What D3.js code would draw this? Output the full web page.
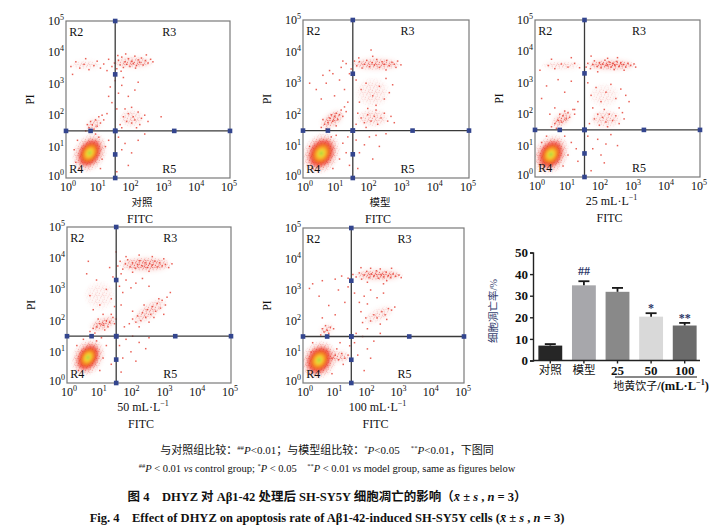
<!DOCTYPE html>
<html>
<head>
<meta charset="utf-8">
<script src="https://cdn.jsdelivr.net/npm/d3@7"></script>
<style>
  body { margin: 0; background: #fff; }
  text { font-family: "Liberation Serif", "Noto Sans CJK SC", serif; fill: #111; }
</style>
</head>
<body>
<svg id="fig" width="718" height="528"></svg>
<script>
// ---- flow cytometry panels (all values in log10 decades) ----
var panelNames = ['对照', '模型', '25', '50', '100'];
var decades = [0, 1, 2, 3, 4, 5];
var gateX = 1.5, gateY = 1.5;
var gateMarks = [0, 0.75, 1.5, 3.3, 5];

// dense R4 core: cx, cy, rx, ry, tilt
var coreCtrl = [0.72, 0.8, 0.34, 0.5, 32];
var coreModel = [0.55, 0.78, 0.38, 0.52, 32];
var core25 = [0.48, 0.72, 0.36, 0.5, 32];
var core50 = [0.64, 0.82, 0.32, 0.48, 32];
var core100 = [0.5, 0.74, 0.38, 0.5, 32];

// dense clouds: cx, cy, rx, ry, tilt, strength
var hazeCtrl = [[0.72, 0.8, 0.5, 0.7, 32, 0.9], [2.05, 3.68, 0.65, 0.18, 0, 0.7], [0.85, 1.7, 0.28, 0.18, -35, 0.6], [2.0, 1.9, 0.4, 0.3, 0, 0.35], [0.6, 3.6, 0.5, 0.15, 0, 0.3]];
var hazeModel = [[0.55, 0.78, 0.55, 0.72, 32, 0.95], [2.2, 3.6, 0.8, 0.2, 0, 0.75], [0.88, 1.85, 0.42, 0.22, -35, 0.9], [2.1, 1.9, 0.5, 0.3, 0, 0.4], [2.1, 2.7, 0.55, 0.5, 0, 0.25]];
var haze25 = [[0.48, 0.72, 0.52, 0.7, 32, 0.95], [2.3, 3.57, 0.8, 0.17, 0, 1], [0.81, 1.83, 0.38, 0.2, -35, 0.85], [2.15, 1.85, 0.5, 0.3, 0, 0.4], [0.8, 3.55, 0.65, 0.14, 0, 0.35], [2.1, 2.6, 0.5, 0.4, 0, 0.2]];
var haze50 = [[0.64, 0.82, 0.48, 0.66, 32, 0.95], [2.4, 3.8, 0.85, 0.24, 0, 0.9], [1.1, 1.9, 0.45, 0.2, -20, 0.85], [2.5, 2.3, 0.65, 0.24, -35, 0.55], [1.0, 2.8, 0.5, 0.5, 0, 0.2]];
var haze100 = [[0.5, 0.74, 0.55, 0.68, 32, 0.95], [2.35, 3.48, 0.8, 0.18, 0, 0.95], [0.74, 1.72, 0.24, 0.15, -35, 0.6], [2.35, 2.2, 0.55, 0.22, -25, 0.35], [1.1, 0.85, 0.4, 0.2, 0, 0.6]];

// single events
var ptsCtrl = [[0.15,3.55],[0.3,3.7],[0.42,3.5],[0.55,3.62],[0.7,3.45],[0.85,3.58],[0.95,3.72],[1.05,3.5],[1.15,3.63],[1.25,3.42],[1.3,3.78],[1.4,3.55],[1.48,3.66],[1.55,3.48],[1.6,3.75],[1.65,3.6],[1.7,3.85],[1.75,3.52],[1.8,3.7],[1.85,3.62],[1.9,3.8],[1.95,3.55],[2.0,3.72],[2.05,3.65],[2.1,3.88],[2.15,3.58],[2.2,3.76],[2.25,3.68],[2.3,3.82],[2.35,3.6],[2.42,3.74],[2.5,3.66],[2.58,3.78],[2.65,3.7],[1.58,3.9],[1.82,3.95],[2.12,3.5],[2.45,3.92],[1.68,3.4],[0.2,3.3],[0.6,3.8],
  [1.35,2.9],[1.5,3.1],[1.6,2.7],[1.4,2.4],[1.7,2.95],[1.55,2.2],[1.3,2.6],[1.75,3.2],[1.25,2.05],[1.9,2.6],[2.1,2.8],[2.2,3.05],
  [1.65,1.7],[1.75,1.95],[1.85,1.8],[1.9,2.05],[2.0,1.75],[2.05,1.95],[2.1,1.85],[2.2,2.1],[2.25,1.7],[2.3,1.9],[2.4,2.0],[1.8,2.2],[2.0,2.25],[2.15,1.6],[2.5,1.8],[1.7,1.6],[2.9,1.95],
  [0.6,1.5],[0.7,1.6],[0.8,1.7],[0.9,1.85],[1.0,1.95],[0.75,1.8],[0.95,1.65],[1.05,1.75],[0.85,1.55],[1.1,2.0],[0.65,1.7],[1.15,1.85],
  [0.3,0.5],[0.35,1.2],[1.0,1.3],[1.1,0.6],[1.2,1.0],[0.4,0.3],[1.05,0.3],[0.9,1.4],[0.25,0.9],[1.3,1.2],
  [1.6,1.3],[1.7,0.9],[1.8,1.1],[2.0,0.8],[2.2,1.2],[1.9,0.4],[1.55,0.2],[2.4,1.4]];
var ptsModel = [[1.15,3.5],[1.3,3.62],[1.45,3.45],[1.55,3.7],[1.62,3.55],[1.7,3.68],[1.78,3.48],[1.85,3.6],[1.92,3.72],[2.0,3.52],[2.08,3.65],[2.15,3.58],[2.22,3.75],[2.3,3.5],[2.38,3.68],[2.45,3.6],[2.52,3.72],[2.6,3.55],[2.68,3.66],[2.75,3.6],[2.85,3.7],[2.95,3.58],[1.68,3.8],[2.1,3.85],[2.05,4.05],[1.4,3.3],[2.5,3.42],[1.2,3.7],[0.9,3.3],[2.8,3.5],
  [0.4,2.8],[0.7,3.0],[0.95,2.6],[1.1,3.1],[0.55,2.5],[1.25,2.8],[0.8,3.4],[0.2,3.0],[1.35,2.4],[0.6,3.25],
  [1.6,3.1],[1.75,2.8],[1.9,3.0],[2.1,2.6],[2.3,2.9],[2.5,3.15],[2.2,2.3],[2.45,2.5],[2.6,2.7],[1.7,2.4],[1.95,2.2],[2.7,2.95],
  [1.6,1.7],[1.75,1.9],[1.85,1.75],[1.95,2.0],[2.05,1.8],[2.15,1.95],[2.25,1.7],[2.35,1.9],[2.45,2.05],[2.55,1.8],[2.65,1.95],[1.9,1.6],[2.2,2.15],[2.75,1.75],[1.65,2.05],
  [0.55,1.6],[0.65,1.7],[0.75,1.75],[0.8,1.9],[0.9,1.8],[0.95,1.95],[1.0,2.05],[1.05,1.85],[1.1,2.0],[1.15,2.15],[1.2,1.95],[1.25,2.25],[0.7,1.55],[0.85,2.0],[1.3,2.1],[0.6,1.85],[1.0,1.65],
  [0.3,0.3],[0.2,1.0],[0.9,0.3],[1.1,0.6],[1.2,1.1],[1.0,1.35],[1.3,0.8],[1.4,0.4],[1.35,1.3],[0.85,1.3],
  [1.6,1.2],[1.7,0.8],[1.85,1.05],[2.0,1.3],[2.1,0.6],[2.3,1.0],[2.5,1.4],[1.65,0.3],[2.2,1.35]];
var pts25 = [[1.55,3.5],[1.6,3.62],[1.68,3.45],[1.75,3.58],[1.8,3.7],[1.88,3.52],[1.95,3.64],[2.0,3.48],[2.05,3.6],[2.12,3.72],[2.18,3.55],[2.25,3.66],[2.3,3.5],[2.35,3.62],[2.42,3.56],[2.48,3.68],[2.55,3.52],[2.6,3.64],[2.68,3.58],[2.75,3.5],[2.82,3.62],[2.9,3.55],[3.0,3.6],[3.05,3.5],[2.2,3.78],[2.5,3.8],[1.9,3.35],[2.7,3.4],[1.7,3.85],[2.4,3.42],
  [0.15,3.4],[0.4,3.55],[0.6,3.45],[0.8,3.6],[1.0,3.5],[1.2,3.62],[1.35,3.48],[1.1,3.8],[0.5,3.75],
  [0.2,2.5],[0.35,2.9],[0.6,2.2],[0.9,2.7],[1.1,3.05],[1.3,2.4],[0.7,3.1],[1.2,2.15],[0.45,2.0],
  [1.6,3.0],[1.7,2.6],[1.85,2.85],[2.0,2.4],[2.15,2.7],[2.3,2.95],[2.45,2.5],[2.6,2.8],[2.75,2.6],[2.55,2.2],[2.85,2.4],[1.75,2.2],[2.1,2.15],
  [1.65,1.7],[1.8,1.85],[1.95,1.65],[2.05,1.9],[2.15,1.75],[2.25,2.0],[2.35,1.8],[2.45,1.95],[2.55,1.7],[2.65,2.05],[1.9,2.0],[2.2,1.6],[2.7,1.85],
  [0.5,1.6],[0.6,1.7],[0.7,1.8],[0.8,1.75],[0.85,1.95],[0.95,1.85],[1.0,2.05],[1.05,1.9],[1.15,2.15],[0.65,1.55],[0.9,2.1],[1.2,2.0],[0.75,2.0],
  [0.15,0.4],[0.2,1.1],[0.85,0.35],[1.0,0.7],[1.1,1.1],[0.9,1.3],[1.25,0.9],[0.35,1.3],[1.3,0.5],
  [1.6,1.3],[1.75,0.9],[1.9,1.2],[2.0,0.7],[2.15,1.05],[2.3,1.35],[2.5,1.0],[2.1,0.45],[1.7,0.2]];
var pts50 = [[1.55,3.75],[1.62,3.9],[1.7,3.65],[1.78,3.82],[1.85,3.95],[1.92,3.72],[2.0,3.85],[2.08,3.68],[2.15,3.8],[2.22,3.92],[2.3,3.75],[2.38,3.85],[2.45,3.7],[2.52,3.82],[2.6,3.78],[2.68,3.9],[2.75,3.72],[2.82,3.85],[2.9,3.75],[3.0,3.8],[3.1,3.7],[3.2,3.82],[2.2,4.1],[1.8,4.05],[2.6,4.05],[2.0,3.55],[2.5,3.58],[2.95,3.98],[1.5,4.2],[1.65,3.5],
  [0.6,3.5],[0.9,3.3],[0.7,2.8],[1.0,2.5],[1.2,3.0],[1.35,2.7],[1.4,3.4],[0.65,3.9],[1.1,2.2],[0.8,2.35],[1.3,3.7],[1.45,2.45],
  [1.6,3.1],[1.7,2.9],[1.8,3.3],[1.95,3.05],[2.1,3.2],[2.3,3.35],[1.65,2.5],[2.5,3.1],
  [1.9,1.9],[2.0,2.05],[2.1,1.95],[2.15,2.15],[2.25,2.0],[2.3,2.25],[2.4,2.1],[2.45,2.35],[2.55,2.2],[2.6,2.45],[2.7,2.3],[2.75,2.55],[2.85,2.4],[2.9,2.65],[3.0,2.5],[3.05,2.75],[2.2,1.8],[2.5,1.95],[2.35,2.5],[2.65,2.1],[2.8,2.7],[2.0,2.3],[1.75,1.8],[2.95,2.2],[3.15,2.9],
  [0.7,1.65],[0.8,1.75],[0.9,1.8],[1.0,1.9],[1.1,1.85],[1.2,2.0],[1.3,1.95],[1.4,2.1],[1.5,2.05],[0.95,2.05],[1.15,1.7],[1.35,2.2],[0.85,1.6],[1.25,1.8],[1.45,1.9],
  [0.35,0.4],[0.3,1.2],[1.0,0.4],[1.1,0.8],[1.2,1.2],[0.9,1.35],[0.5,1.4],[1.35,0.6],[1.05,1.45],
  [1.6,1.2],[1.7,0.8],[1.8,1.4],[1.95,1.0],[2.1,0.7],[2.2,1.3],[2.4,1.1],[1.65,0.35],[2.5,1.45],[2.0,1.5]];
var pts100 = [[1.0,3.35],[1.2,3.45],[1.4,3.38],[1.55,3.5],[1.65,3.42],[1.75,3.55],[1.82,3.35],[1.9,3.48],[1.98,3.6],[2.05,3.4],[2.12,3.52],[2.2,3.45],[2.28,3.62],[2.35,3.38],[2.42,3.5],[2.5,3.42],[2.58,3.58],[2.65,3.46],[2.72,3.4],[2.8,3.52],[2.88,3.44],[2.98,3.48],[3.05,3.4],[2.1,3.7],[2.4,3.68],[2.0,3.25],[2.6,3.3],[1.8,3.72],[2.75,3.7],[0.6,3.3],[0.3,3.2],[2.5,3.2],
  [0.2,3.05],[0.5,2.8],[0.8,2.5],[1.1,3.0],[1.3,2.6],[1.0,2.2],[0.6,2.1],[1.4,3.1],
  [1.6,2.9],[1.75,2.6],[1.9,2.8],[2.1,3.0],[2.3,2.75],[2.5,2.9],[1.8,2.3],[2.0,2.55],
  [1.85,1.95],[1.95,2.1],[2.1,2.0],[2.2,2.2],[2.3,2.1],[2.45,2.3],[2.55,2.2],[2.65,2.4],[2.75,2.35],[2.85,2.45],[2.4,1.9],[2.6,2.05],[2.0,1.75],
  [0.55,1.55],[0.65,1.65],[0.75,1.7],[0.85,1.8],[0.7,1.85],[0.8,1.6],[0.95,1.75],[0.6,1.75],
  [0.9,0.8],[1.0,0.9],[1.1,0.75],[1.2,0.95],[1.3,0.8],[1.4,0.9],[1.5,0.7],[1.05,1.1],[1.25,0.6],[0.2,0.3],[0.3,1.3],[0.9,0.3],[1.15,1.3],[0.25,1.0],[1.45,1.2],
  [1.6,1.3],[1.7,0.9],[1.85,1.5],[2.0,1.1],[2.2,1.35],[2.4,1.6],[1.9,0.4],[2.1,0.8],[1.65,1.6]];

// ---- bar chart ----
var barCats = ['对照', '模型', '25', '50', '100'];
var barMeans = [6.9, 34.8, 31.8, 20.3, 16.2];
var barSds = [0.7, 1.9, 1.8, 1.6, 1.2];
var barSig = ['', '##', '', '*', '**'];
var barColors = ['#262626', '#a7a7ab', '#898989', '#d9d9d9', '#6b6b6b'];
var barTicks = [0, 10, 20, 30, 40, 50];

var cores = [coreCtrl, coreModel, core25, core50, core100];
var hazes = [hazeCtrl, hazeModel, haze25, haze50, haze100];
var points = [ptsCtrl, ptsModel, pts25, pts50, pts100];
var boxes = [[66, 21, 164, 157], [303, 20, 166, 158], [535, 20, 165, 157], [67, 227, 164, 156], [303, 228, 161, 155]];

var svg = d3.select('#fig');
var defs = svg.append('defs');

var grad = defs.append('radialGradient').attr('id', 'coreGrad');
[['0%', '#63b947', 1], ['12%', '#d9e23d', 1], ['30%', '#f9c22c', 1], ['50%', '#f37a24', 1], ['72%', '#ec3525', 0.8], ['100%', '#ec3525', 0]]
  .forEach(function (s) {
    grad.append('stop').attr('offset', s[0]).attr('stop-color', s[1]).attr('stop-opacity', s[2]);
  });
var fade = defs.append('radialGradient').attr('id', 'fade');
[['0%', '#fff'], ['45%', '#bbb'], ['100%', '#000']].forEach(function (s) {
  fade.append('stop').attr('offset', s[0]).attr('stop-color', s[1]);
});
// speckle texture for the dense clouds
var speck = defs.append('pattern').attr('id', 'speck').attr('patternUnits', 'userSpaceOnUse')
  .attr('width', 7).attr('height', 7);
[[0.4, 0.8], [3.9, 0.2], [2.1, 3.3], [5.6, 2.6], [4.4, 5.5], [0.9, 5.8], [6.1, 4.6], [2.8, 1.7], [5.2, 0.9]].forEach(function (p) {
  speck.append('rect').attr('x', p[0]).attr('y', p[1]).attr('width', 1.1).attr('height', 1.1).attr('fill', '#e5302a');
});
defs.append('filter').attr('id', 'blur').attr('x', '-50%').attr('y', '-50%').attr('width', '200%').attr('height', '200%')
  .append('feGaussianBlur').attr('stdDeviation', 2.5);
defs.append('filter').attr('id', 'soft').attr('x', '-30%').attr('y', '-30%').attr('width', '160%').attr('height', '160%')
  .append('feGaussianBlur').attr('stdDeviation', 0.8);

function sup(sel, base, s) {
  sel.append('tspan').text(base);
  sel.append('tspan').attr('font-size', 8).attr('dy', -5).text(s);
}

function drawPanel(i) {
  var b = boxes[i];
  var x0 = b[0], y0 = b[1], w = b[2], h = b[3];
  var x = d3.scaleLog().domain([1, 1e5]).range([x0, x0 + w]);
  var y = d3.scaleLog().domain([1, 1e5]).range([y0 + h, y0]);
  var X = function (d) { return x(Math.pow(10, d)); };
  var Y = function (d) { return y(Math.pow(10, d)); };
  var kx = w / 5, ky = h / 5;
  var rot = function (d) { return 'rotate(' + d[4] + ',' + X(d[0]) + ',' + Y(d[1]) + ')'; };

  var g = svg.append('g');
  defs.append('clipPath').attr('id', 'clip' + i)
    .append('rect').attr('x', x0).attr('y', y0).attr('width', w).attr('height', h);
  var area = g.append('g').attr('clip-path', 'url(#clip' + i + ')');

  hazes[i].forEach(function (d, k) {
    var id = 'm' + i + '_' + k;
    defs.append('mask').attr('id', id).attr('maskUnits', 'userSpaceOnUse')
      .attr('x', 0).attr('y', 0).attr('width', 718).attr('height', 528)
      .append('ellipse').attr('cx', X(d[0])).attr('cy', Y(d[1]))
      .attr('rx', d[2] * kx).attr('ry', d[3] * ky).attr('transform', rot(d))
      .attr('fill', 'url(#fade)');
    area.append('ellipse').attr('cx', X(d[0])).attr('cy', Y(d[1]))
      .attr('rx', d[2] * kx * 0.8).attr('ry', d[3] * ky * 0.8).attr('transform', rot(d))
      .attr('fill', '#f06656').attr('opacity', d[5] * 0.28).attr('filter', 'url(#blur)');
    area.append('rect').attr('x', x0).attr('y', y0).attr('width', w).attr('height', h)
      .attr('fill', 'url(#speck)').attr('opacity', d[5]).attr('mask', 'url(#' + id + ')');
  });

  area.selectAll('rect.pt').data(points[i]).enter().append('rect')
    .attr('class', 'pt')
    .attr('x', function (d) { return X(d[0]) - 0.75; })
    .attr('y', function (d) { return Y(d[1]) - 0.75; })
    .attr('width', 1.5).attr('height', 1.5)
    .attr('fill', '#e53a2d')
    .attr('opacity', 0.8);

  var c = cores[i];
  area.append('ellipse')
    .attr('cx', X(c[0])).attr('cy', Y(c[1]))
    .attr('rx', c[2] * kx).attr('ry', c[3] * ky)
    .attr('transform', rot(c))
    .attr('fill', 'url(#coreGrad)')
    .attr('filter', 'url(#soft)');

  g.append('rect').attr('x', x0).attr('y', y0).attr('width', w).attr('height', h)
    .attr('fill', 'none').attr('stroke', '#7a7a7a').attr('stroke-width', 1.2);

  g.append('line').attr('x1', X(gateX)).attr('x2', X(gateX)).attr('y1', y0).attr('y2', y0 + h)
    .attr('stroke', '#3a3a3a').attr('stroke-width', 1.3);
  g.append('line').attr('x1', x0).attr('x2', x0 + w).attr('y1', Y(gateY)).attr('y2', Y(gateY))
    .attr('stroke', '#3a3a3a').attr('stroke-width', 1.3);

  g.selectAll('rect.mv').data(gateMarks).enter().append('rect')
    .attr('x', X(gateX) - 2.3).attr('y', function (d) { return Y(d) - 2.3; })
    .attr('width', 4.6).attr('height', 4.6).attr('fill', '#33458e');
  g.selectAll('rect.mh').data(gateMarks).enter().append('rect')
    .attr('x', function (d) { return X(d) - 2.3; }).attr('y', Y(gateY) - 2.3)
    .attr('width', 4.6).attr('height', 4.6).attr('fill', '#33458e');

  [['R2', 0.1, 4.66, 'start'], ['R3', 3.15, 4.66, 'middle'], ['R4', 0.1, 0.3, 'start'], ['R5', 3.15, 0.3, 'middle']]
    .forEach(function (r) {
      g.append('text').attr('x', X(r[1])).attr('y', Y(r[2]) + 4)
        .attr('text-anchor', r[3]).attr('font-size', 12).text(r[0]);
    });

  decades.forEach(function (d) {
    var t = g.append('text').attr('x', X(d) + (d === 0 ? 2 : -1)).attr('y', y0 + h + 13)
      .attr('text-anchor', 'middle').attr('font-size', 12);
    sup(t, '10', d);
    var t2 = g.append('text').attr('x', x0 - 2).attr('y', Y(d) + (d === 0 ? 2 : 4))
      .attr('text-anchor', 'end').attr('font-size', 12);
    sup(t2, '10', d);
  });

  g.append('text').attr('transform', 'translate(' + (x0 - 32) + ',' + (y0 + h / 2) + ') rotate(-90)')
    .attr('text-anchor', 'middle').attr('font-size', 11.5).text('PI');

  var sub = g.append('text').attr('x', x0 + w / 2 - 6).attr('y', y0 + h + 28)
    .attr('text-anchor', 'middle').attr('font-size', 12);
  if (i < 2) {
    sub.attr('font-family', '"Noto Sans CJK SC"').attr('font-size', 10.5).text(panelNames[i]);
  } else {
    sub.append('tspan').text(panelNames[i] + ' mL·L');
    sub.append('tspan').attr('font-size', 8).attr('dy', -5).text('−1');
  }
  g.append('text').attr('x', x0 + w / 2 - 8).attr('y', y0 + h + 45)
    .attr('text-anchor', 'middle').attr('font-size', 12).text('FITC');
}

for (var i = 0; i < 5; i++) drawPanel(i);

// ---- bar chart ----
var bx = d3.scaleBand().domain(barCats).range([533, 702]).paddingInner(0.29).paddingOuter(0.16);
var by = d3.scaleLinear().domain([0, 50]).range([360.5, 252.5]);
var bars = svg.append('g');

bars.selectAll('rect.bar').data(barCats).enter().append('rect')
  .attr('class', 'bar')
  .attr('x', function (d) { return bx(d); })
  .attr('y', function (d, j) { return by(barMeans[j]); })
  .attr('width', bx.bandwidth())
  .attr('height', function (d, j) { return by(0) - by(barMeans[j]); })
  .attr('fill', function (d, j) { return barColors[j]; });

barCats.forEach(function (d, j) {
  var cx = bx(d) + bx.bandwidth() / 2;
  var top = by(barMeans[j] + barSds[j]);
  bars.append('line').attr('x1', cx).attr('x2', cx).attr('y1', by(barMeans[j])).attr('y2', top)
    .attr('stroke', '#1a1a1a').attr('stroke-width', 1.8);
  bars.append('line').attr('x1', cx - 5.5).attr('x2', cx + 5.5).attr('y1', top).attr('y2', top)
    .attr('stroke', '#1a1a1a').attr('stroke-width', 1.8);
  if (barSig[j]) {
    bars.append('text').attr('x', cx).attr('y', top - (barSig[j].indexOf('#') >= 0 ? 6 : 1))
      .attr('text-anchor', 'middle').attr('font-size', 12).attr('font-weight', 'bold')
      .style('fill', '#2b3566').text(barSig[j]);
  }
});

var yAxis = bars.append('g').attr('transform', 'translate(533,0)')
  .call(d3.axisLeft(by).tickValues(barTicks).tickSize(3).tickPadding(2));
yAxis.selectAll('text').attr('font-size', 13).attr('font-weight', 'bold')
  .attr('font-family', '"Liberation Serif", serif').style('fill', '#111');
yAxis.selectAll('path,line').attr('stroke', '#222').attr('stroke-width', 1.4);

var xAxis = bars.append('g').attr('transform', 'translate(0,360.5)')
  .call(d3.axisBottom(bx).tickSize(3).tickSizeOuter(0).tickPadding(2));
xAxis.select('path').attr('d', 'M533,0H700');
xAxis.selectAll('path,line').attr('stroke', '#222').attr('stroke-width', 1.4);
xAxis.selectAll('text')
  .attr('font-family', function (d) { return isNaN(+d) ? '"Noto Sans CJK SC"' : '"Liberation Serif", serif'; })
  .attr('font-size', function (d) { return isNaN(+d) ? 11.5 : 13; })
  .attr('font-weight', function (d) { return isNaN(+d) ? 'normal' : 'bold'; })
  .style('fill', '#111');

bars.append('line').attr('x1', 615).attr('x2', 697).attr('y1', 377).attr('y2', 377)
  .attr('stroke', '#111').attr('stroke-width', 1);
var unit = bars.append('text').attr('x', 661).attr('y', 390).attr('text-anchor', 'middle')
  .attr('font-size', 12.5).attr('font-weight', 'bold');
unit.append('tspan').attr('font-family', '"Noto Sans CJK SC"').attr('font-weight', 'normal').attr('font-size', 11).text('地黄饮子');
unit.append('tspan').text('/(mL·L');
unit.append('tspan').attr('font-size', 8).attr('dy', -5).text('−1');
unit.append('tspan').attr('dy', 5).text(')');

svg.append('text').attr('transform', 'translate(497,311) rotate(-90)')
  .attr('text-anchor', 'middle').attr('font-size', 10.5)
  .attr('font-family', '"Noto Sans CJK SC"').style('fill', '#33406e').text('细胞凋亡率/%');

// ---- captions ----
function cap(y, size, weight, parts) {
  var t = svg.append('text').attr('x', 327).attr('y', y).attr('text-anchor', 'middle')
    .attr('font-size', size).attr('font-weight', weight);
  parts.forEach(function (p) {
    var s = t.append('tspan').text(p[0]);
    if (p[1] === 'i') s.attr('font-style', 'italic');
    if (p[1] === 's') s.attr('font-size', size * 0.62).attr('dy', -4);
    if (p[1] === 'ai') s.attr('dy', 4).attr('font-style', 'italic');
  });
}
cap(454, 11, 'normal', [['与对照组比较：'], ['##', 's'], ['P', 'ai'], ['<0.01；与模型组比较：'], ['*', 's'], ['P', 'ai'], ['<0.05　'], ['**', 's'], ['P', 'ai'], ['<0.01，下图同']]);
cap(472, 10.5, 'normal', [['##', 's'], ['P', 'ai'], [' < 0.01 '], ['vs', 'i'], [' control group; '], ['*', 's'], ['P', 'ai'], [' < 0.05　'], ['**', 's'], ['P', 'ai'], [' < 0.01 '], ['vs', 'i'], [' model group, same as figures below']]);
cap(501, 12.5, 'bold', [['图 4　DHYZ 对 Aβ1-42 处理后 SH-SY5Y 细胞凋亡的影响（'], ['x̄', 'i'], [' ± '], ['s', 'i'], [' , '], ['n', 'i'], [' = 3）']]);
cap(522, 12.5, 'bold', [['Fig. 4　Effect of DHYZ on apoptosis rate of Aβ1-42-induced SH-SY5Y cells ('], ['x̄', 'i'], [' ± '], ['s', 'i'], [' , '], ['n', 'i'], [' = 3)']]);
</script>
</body>
</html>
